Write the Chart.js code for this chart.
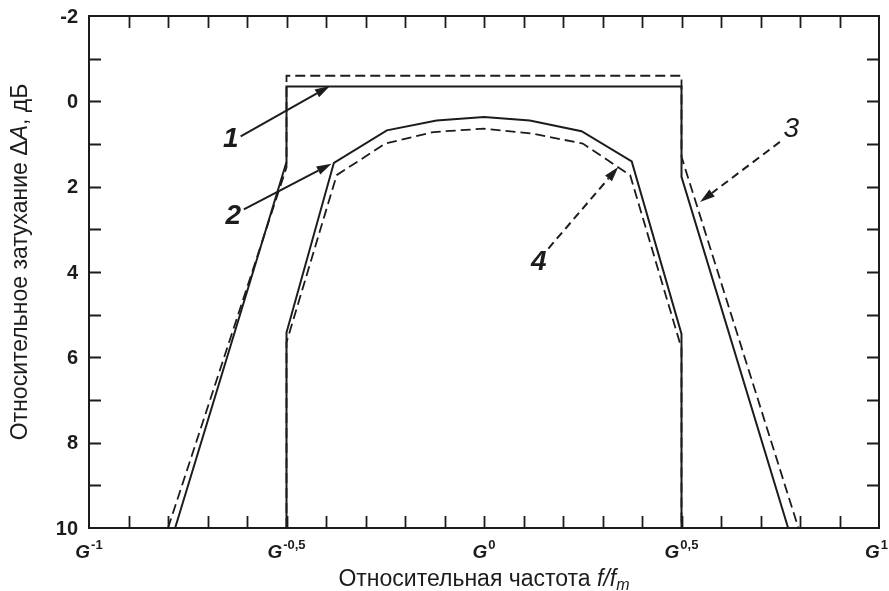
<!DOCTYPE html>
<html>
<head>
<meta charset="utf-8">
<script src="https://cdn.jsdelivr.net/npm/chart.js@4/dist/chart.umd.min.js"></script>
<style>
html,body{margin:0;padding:0;background:#fff;}
canvas{display:block;}
</style>
</head>
<body>
<canvas id="c" width="889" height="591"></canvas>
<script>
// x values are exponents of G (f/fm = G^x); y values are relative attenuation, dB
const curve1X = [-0.782, -0.5, -0.5, 0.5, 0.5, 0.77];
const curve1Y = [10, 1.42, -0.35, -0.35, 1.77, 10];
const curve3X = [-0.80, -0.5, -0.5, 0.5, 0.5, 0.796];
const curve3Y = [10, 1.55, -0.6, -0.6, 1.3, 10];
const curve2X = [-0.5, -0.5, -0.38, -0.246, -0.12, 0, 0.116, 0.247, 0.374, 0.5, 0.5];
const curve2Y = [10, 5.42, 1.44, 0.68, 0.45, 0.37, 0.45, 0.70, 1.41, 5.45, 10];
const curve4X = [-0.5, -0.5, -0.373, -0.25, -0.128, 0, 0.125, 0.25, 0.37, 0.5, 0.5];
const curve4Y = [10, 5.65, 1.73, 0.99, 0.72, 0.64, 0.76, 0.99, 1.73, 5.79, 10];

const xTickValues = [-1, -0.5, 0, 0.5, 1];
const xTickExponents = ["-1", "-0,5", "0", "0,5", "1"];
const xMinorValues = [-0.9,-0.8,-0.7,-0.6,-0.5,-0.4,-0.3,-0.2,-0.1,0,0.1,0.2,0.3,0.4,0.5,0.6,0.7,0.8,0.9];
const yTickValues = [-2, 0, 2, 4, 6, 8, 10];
const yTickLabels = ["-2", "0", "2", "4", "6", "8", "10"];
const yMinorValues = [-1,0,1,2,3,4,5,6,7,8,9];

// callouts: label, label position, arrow start, arrow tip (data units), dashed?
const calloutLabels = ["1", "2", "3", "4"];
const calloutLabelPos = [[-0.641, 0.87], [-0.635, 2.67], [0.778, 0.62], [0.139, 3.75]];
const calloutFrom = [[-0.616, 0.82], [-0.608, 2.53], [0.749, 0.95], [0.163, 3.45]];
const calloutTo = [[-0.39, -0.36], [-0.386, 1.46], [0.547, 2.36], [0.34, 1.54]];
const calloutDashed = [false, false, true, true];

const INK = '#1c1c1c';
const pts = (xs, ys) => xs.map((x, i) => ({x, y: ys[i]}));

const decor = {
  id: 'decor',
  afterDraw(chart) {
    const ctx = chart.ctx, xs = chart.scales.x, ys = chart.scales.y, a = chart.chartArea;
    ctx.save();
    ctx.strokeStyle = INK; ctx.fillStyle = INK;
    // frame
    ctx.lineWidth = 2;
    ctx.strokeRect(a.left, a.top, a.right - a.left, a.bottom - a.top);
    // inward ticks
    const TL = 12;
    ctx.lineWidth = 1.8;
    ctx.beginPath();
    xMinorValues.forEach(v => {
      const px = Math.round(xs.getPixelForValue(v)) + 0.5;
      ctx.moveTo(px, a.top); ctx.lineTo(px, a.top + TL);
      ctx.moveTo(px, a.bottom); ctx.lineTo(px, a.bottom - TL);
    });
    yMinorValues.forEach(v => {
      const py = Math.round(ys.getPixelForValue(v)) + 0.5;
      ctx.moveTo(a.left, py); ctx.lineTo(a.left + TL, py);
      ctx.moveTo(a.right, py); ctx.lineTo(a.right - TL, py);
    });
    ctx.stroke();
    // y tick labels
    ctx.font = 'bold 20px "Liberation Sans", Arial, sans-serif';
    ctx.textAlign = 'right'; ctx.textBaseline = 'middle';
    yTickValues.forEach((v, i) => {
      ctx.fillText(yTickLabels[i], a.left - 11, ys.getPixelForValue(v) + 1);
    });
    // x tick labels G^exp
    ctx.textBaseline = 'alphabetic'; ctx.textAlign = 'left';
    const gFont = 'italic bold 19px "Liberation Sans", Arial, sans-serif';
    const sFont = 'bold 13px "Liberation Sans", Arial, sans-serif';
    xTickValues.forEach((v, i) => {
      ctx.font = gFont; const gw = ctx.measureText('G').width;
      ctx.font = sFont; const sw = ctx.measureText(xTickExponents[i]).width;
      let x0 = xs.getPixelForValue(v) - (gw + 1 + sw) / 2;
      x0 = Math.min(x0, chart.width - (gw + 1 + sw) - 1);
      ctx.font = gFont; ctx.fillText('G', x0, 558);
      ctx.font = sFont; ctx.fillText(xTickExponents[i], x0 + gw + 1, 549);
    });
    // x axis title
    const tFont = '23px "Liberation Sans", Arial, sans-serif';
    const tiFont = 'italic 23px "Liberation Sans", Arial, sans-serif';
    const tiSub = 'italic 16px "Liberation Sans", Arial, sans-serif';
    const parts = [[ 'Относительная частота ', tFont, 0], ['f/f', tiFont, 0], ['m', tiSub, 4]];
    let tot = 0;
    parts.forEach(p => { ctx.font = p[1]; p.w = ctx.measureText(p[0]).width; tot += p.w; });
    let cx = (a.left + a.right) / 2 - tot / 2;
    parts.forEach(p => { ctx.font = p[1]; ctx.fillText(p[0], cx, 586 + p[2]); cx += p.w; });
    // y axis title (rotated)
    ctx.save();
    ctx.translate(27, 262);
    ctx.rotate(-Math.PI / 2);
    const yparts = [['Относительное затухание Δ', tFont], ['A', tiFont], [', дБ', tFont]];
    let ytot = 0;
    yparts.forEach(p => { ctx.font = p[1]; p.w = ctx.measureText(p[0]).width; ytot += p.w; });
    let yx = -ytot / 2;
    yparts.forEach(p => { ctx.font = p[1]; ctx.fillText(p[0], yx, 0); yx += p.w; });
    ctx.restore();
    // callouts
    calloutLabels.forEach((lab, i) => {
      const fx = xs.getPixelForValue(calloutFrom[i][0]), fy = ys.getPixelForValue(calloutFrom[i][1]);
      const tx = xs.getPixelForValue(calloutTo[i][0]), ty = ys.getPixelForValue(calloutTo[i][1]);
      const ang = Math.atan2(ty - fy, tx - fx);
      const HL = 15, HW = 4.5;
      const bx = tx - HL * Math.cos(ang), by = ty - HL * Math.sin(ang);
      ctx.lineWidth = 2;
      ctx.setLineDash(calloutDashed[i] ? [8, 5] : []);
      ctx.beginPath(); ctx.moveTo(fx, fy); ctx.lineTo(bx, by); ctx.stroke();
      ctx.setLineDash([]);
      ctx.beginPath();
      ctx.moveTo(tx, ty);
      ctx.lineTo(bx + HW * Math.sin(ang), by - HW * Math.cos(ang));
      ctx.lineTo(bx - HW * Math.sin(ang), by + HW * Math.cos(ang));
      ctx.closePath(); ctx.fill();
      ctx.font = (lab === '3' ? 'italic 28px' : 'italic bold 28px') + ' "Liberation Sans", Arial, sans-serif';
      ctx.textAlign = 'center'; ctx.textBaseline = 'middle';
      ctx.fillText(lab, xs.getPixelForValue(calloutLabelPos[i][0]), ys.getPixelForValue(calloutLabelPos[i][1]) + 1);
      ctx.textAlign = 'left'; ctx.textBaseline = 'alphabetic';
    });
    ctx.restore();
  }
};

const solid = {borderColor: INK, borderWidth: 2, pointRadius: 0, showLine: true, tension: 0, fill: false};
const dashed = Object.assign({}, solid, {borderDash: [10, 5], borderWidth: 1.8});

new Chart(document.getElementById('c'), {
  type: 'scatter',
  data: {
    datasets: [
      Object.assign({label: '1', data: pts(curve1X, curve1Y)}, solid),
      Object.assign({label: '2', data: pts(curve2X, curve2Y)}, solid),
      Object.assign({label: '3', data: pts(curve3X, curve3Y)}, dashed),
      Object.assign({label: '4', data: pts(curve4X, curve4Y)}, dashed)
    ]
  },
  options: {
    responsive: false,
    animation: false,
    layout: {padding: {left: 89, right: 10, top: 16, bottom: 63}},
    plugins: {legend: {display: false}, tooltip: {enabled: false}},
    scales: {
      x: {type: 'linear', min: -1, max: 1, display: false},
      y: {type: 'linear', min: -2, max: 10, reverse: true, display: false}
    }
  },
  plugins: [decor]
});
</script>
</body>
</html>
